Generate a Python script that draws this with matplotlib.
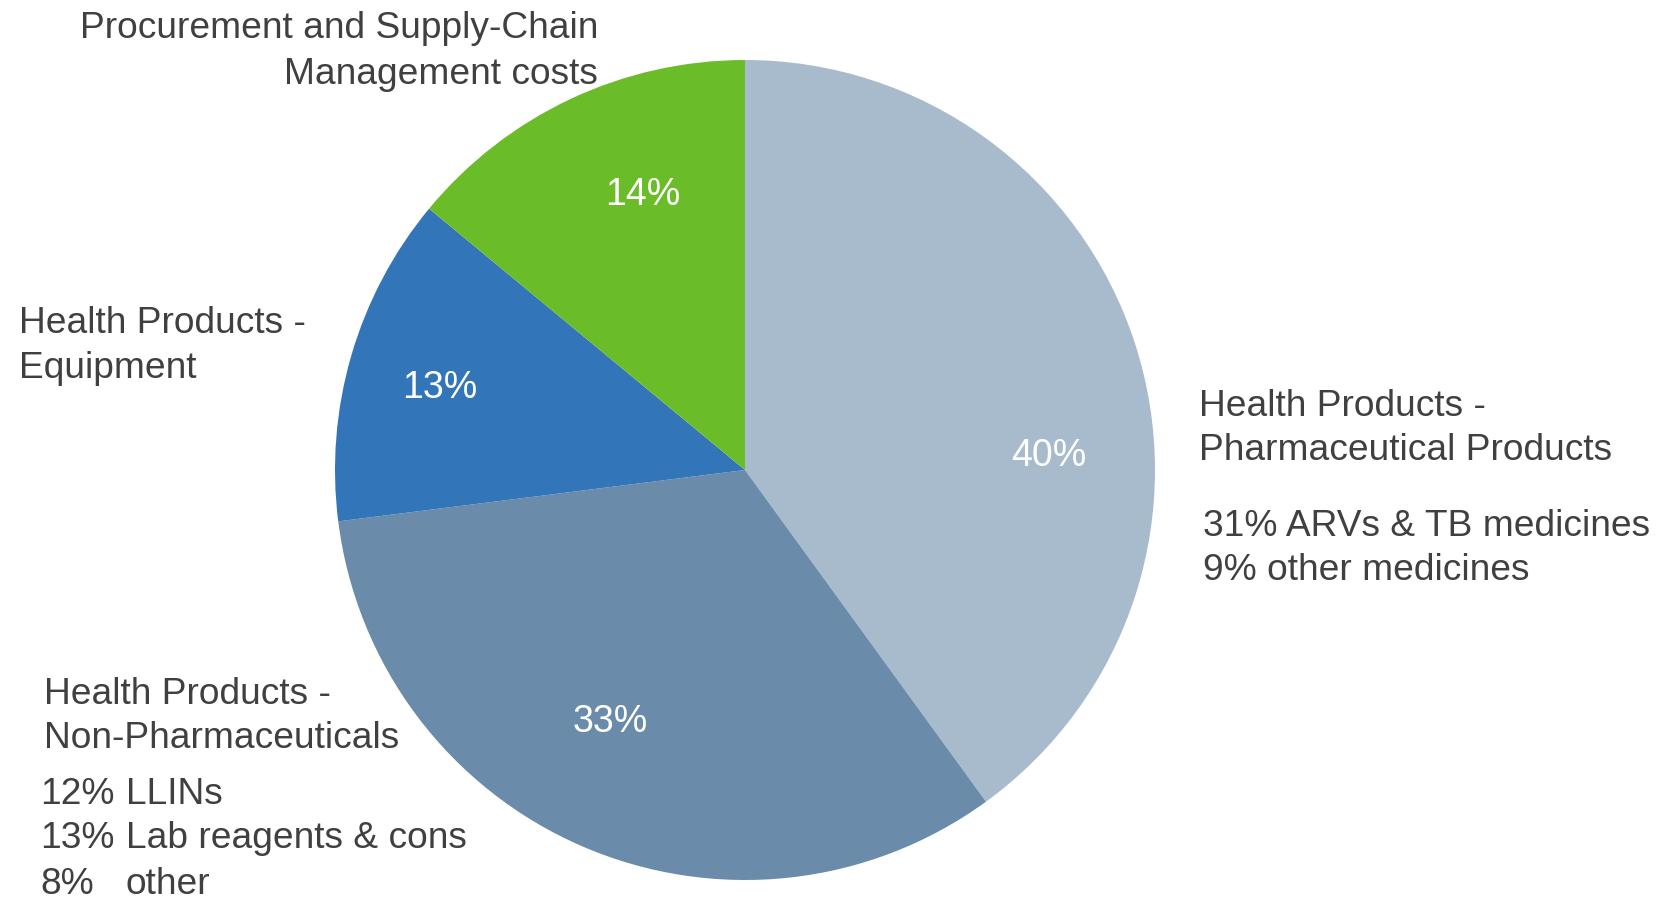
import matplotlib
matplotlib.use("Agg")
import matplotlib.pyplot as plt

plt.rcParams['font.family'] = ['Liberation Sans', 'DejaVu Sans']

# data
categories = ['Health Products -\nPharmaceutical Products',
              'Health Products -\nNon-Pharmaceuticals',
              'Health Products -\nEquipment',
              'Procurement and Supply-Chain\nManagement costs']
shares = [40, 33, 13, 14]
colors = ['#A8BBCC', '#6A8CAA', '#3275B9', '#6ABD28']

pharma_pct = ['31%', '9%']
pharma_items = ['ARVs & TB medicines', 'other medicines']
nonpharma_pct = ['12%', '13%', '8%']
nonpharma_items = ['LLINs', 'Lab reagents & cons', 'other']

W, H = 1665, 901
txt = '#404040'
fs = 26.7

fig = plt.figure(figsize=(W / 100, H / 100), dpi=100)
cx, cy, r = 745, 470, 410
ax = fig.add_axes([(cx - r) / W, (H - cy - r) / H, 2 * r / W, 2 * r / H])
ax.pie(shares, colors=colors, startangle=90, counterclock=False,
       radius=1, wedgeprops=dict(linewidth=0))
ax.set_xlim(-1, 1)
ax.set_ylim(-1, 1)
ax.axis('off')

# percent labels inside the slices
pct_pos = [(0.74, 0.035), (-0.33, -0.615), (-0.745, 0.2), (-0.25, 0.67)]
for v, (x, y) in zip(shares, pct_pos):
    ax.text(x, y, f'{v}%', color='white', fontsize=27, ha='center', va='center')


def ftext(x, y, s, ha='left'):
    fig.text(x / W, 1 - y / H, s, color=txt, fontsize=fs, ha=ha, va='center')


def block(x, ys, lines, ha='left'):
    for y, s in zip(ys, lines):
        ftext(x, y, s, ha)


block(1199, [406, 451], categories[0].split('\n'))
block(44, [694, 739], categories[1].split('\n'))
block(19, [324, 368], categories[2].split('\n'))
block(598, [28, 74], categories[3].split('\n'), ha='right')

for i, (p, it) in enumerate(zip(pharma_pct, pharma_items)):
    ftext(1203, 526 + 45 * i, f'{p} {it}')

for i, (p, it) in enumerate(zip(nonpharma_pct, nonpharma_items)):
    ftext(40, 794 + 45 * i, p)
    ftext(126, 794 + 45 * i, it)

fig.savefig('out.png', dpi=100)
